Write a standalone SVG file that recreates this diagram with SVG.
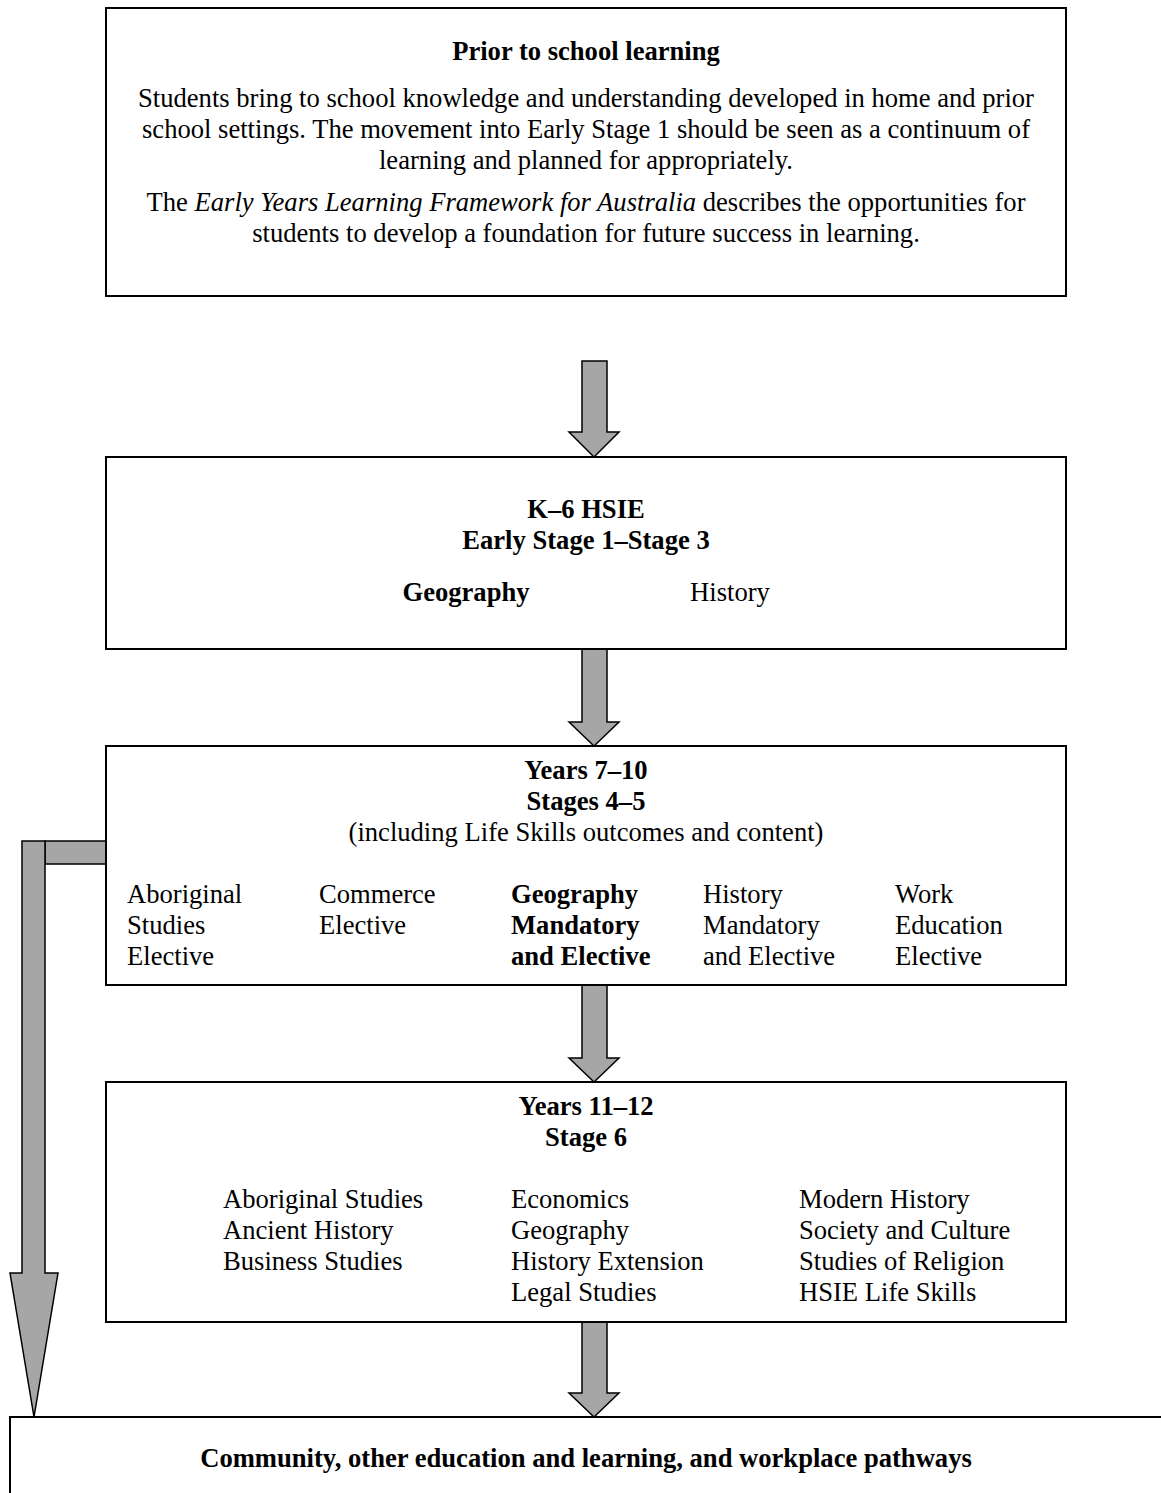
<svg xmlns="http://www.w3.org/2000/svg" width="1161" height="1493" viewBox="0 0 1161 1493">
<style>
.box{fill:#fff;stroke:#000;stroke-width:2}
.arr{fill:#a6a6a6;stroke:#000;stroke-width:1.5;stroke-linejoin:miter}
text{font-family:"Liberation Serif","Times New Roman",serif;font-size:26.6px;fill:#000}
.c{text-anchor:middle}
.b{font-weight:bold}
</style>
<rect width="1161" height="1493" fill="#fff"/>
<g id="connectors">
<polygon class="arr" points="582,361 607,361 607,432 619,432 594,457 569,432 582,432"/>
<polygon class="arr" points="582,649 607,649 607,722 619,722 594,746 569,722 582,722"/>
<polygon class="arr" points="582,985 607,985 607,1058 619,1058 594,1082 569,1058 582,1058"/>
<polygon class="arr" points="582,1322 607,1322 607,1393 619,1393 594,1417 569,1393 582,1393"/>
<rect class="arr" x="45" y="841" width="61" height="23"/>
<polygon class="arr" points="22,841 45,841 45,1273 58,1273 34,1417 10,1273 22,1273"/>
</g>
<g id="node-prior">
<rect class="box" x="106" y="8" width="960" height="288"/>
<text class="c b" x="586" y="60">Prior to school learning</text>
<text class="c" x="586" y="107">Students bring to school knowledge and understanding developed in home and prior</text>
<text class="c" x="586" y="138">school settings. The movement into Early Stage 1 should be seen as a continuum of</text>
<text class="c" x="586" y="169">learning and planned for appropriately.</text>
<text class="c" x="586" y="211">The <tspan font-style="italic">Early Years Learning Framework for Australia</tspan> describes the opportunities for</text>
<text class="c" x="586" y="242">students to develop a foundation for future success in learning.</text>
</g>
<g id="node-k6">
<rect class="box" x="106" y="457" width="960" height="192"/>
<text class="c b" x="586" y="518">K–6 HSIE</text>
<text class="c b" x="586" y="549">Early Stage 1–Stage 3</text>
<text class="c b" x="466" y="601">Geography</text>
<text class="c" x="730" y="601">History</text>
</g>
<g id="node-7-10">
<rect class="box" x="106" y="746" width="960" height="239"/>
<text class="c b" x="586" y="779">Years 7–10</text>
<text class="c b" x="586" y="810">Stages 4–5</text>
<text class="c" x="586" y="841">(including Life Skills outcomes and content)</text>
<text x="127" y="903">Aboriginal</text>
<text x="127" y="934">Studies</text>
<text x="127" y="965">Elective</text>
<text x="319" y="903">Commerce</text>
<text x="319" y="934">Elective</text>
<text class="b" x="511" y="903">Geography</text>
<text class="b" x="511" y="934">Mandatory</text>
<text class="b" x="511" y="965">and Elective</text>
<text x="703" y="903">History</text>
<text x="703" y="934">Mandatory</text>
<text x="703" y="965">and Elective</text>
<text x="895" y="903">Work</text>
<text x="895" y="934">Education</text>
<text x="895" y="965">Elective</text>
</g>
<g id="node-11-12">
<rect class="box" x="106" y="1082" width="960" height="240"/>
<text class="c b" x="586" y="1115">Years 11–12</text>
<text class="c b" x="586" y="1146">Stage 6</text>
<text x="223" y="1208">Aboriginal Studies</text>
<text x="223" y="1239">Ancient History</text>
<text x="223" y="1270">Business Studies</text>
<text x="511" y="1208">Economics</text>
<text x="511" y="1239">Geography</text>
<text x="511" y="1270">History Extension</text>
<text x="511" y="1301">Legal Studies</text>
<text x="799" y="1208">Modern History</text>
<text x="799" y="1239">Society and Culture</text>
<text x="799" y="1270">Studies of Religion</text>
<text x="799" y="1301">HSIE Life Skills</text>
</g>
<g id="node-pathways">
<rect class="box" x="10" y="1417" width="1200" height="200"/>
<text class="c b" x="586" y="1467">Community, other education and learning, and workplace pathways</text>
</g>
</svg>
